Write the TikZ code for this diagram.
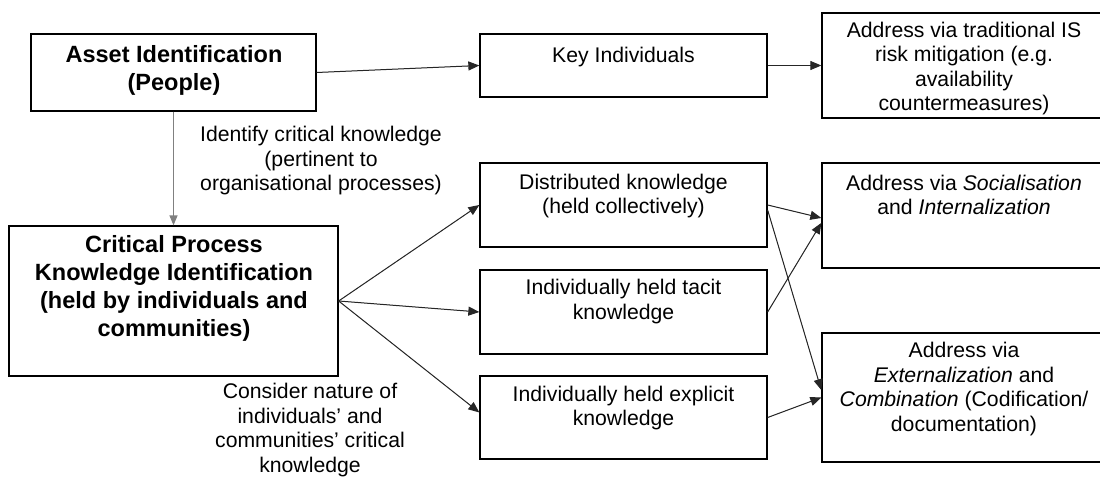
\documentclass[tikz,border=0pt]{standalone}
\usepackage{fontspec}
\setmainfont{Liberation Sans}
\usetikzlibrary{arrows.meta,calc}
\begin{document}
\begin{tikzpicture}[x=1pt,y=-1pt,
  box/.style={draw=black,line width=1.3pt,inner sep=0pt,rectangle},
  txt/.style={align=center,inner sep=0pt,font=\fontsize{21.2}{24.5}\selectfont},
  btxt/.style={align=center,inner sep=0pt,font=\fontsize{23.5}{28}\selectfont\bfseries},
  arr/.style={-{Triangle[length=11pt,width=9pt]},line width=1pt,draw=black!85,fill=black!85},
  garr/.style={-{Triangle[length=10pt,width=8pt]},line width=1.3pt,draw=black!50,fill=black!70}]
\useasboundingbox (0,0) rectangle (1100,479);
% boxes
\node[box,minimum width=285pt,minimum height=77pt] (asset) at (173.5,72.5) {};
\node[box,minimum width=329pt,minimum height=150pt] (crit) at (173.5,301) {};
\node[box,minimum width=287pt,minimum height=63pt] (key) at (623.5,65.5) {};
\node[box,minimum width=280pt,minimum height=105pt] (trad) at (962,65.5) {};
\node[box,minimum width=287pt,minimum height=84pt] (dist) at (623.5,205) {};
\node[box,minimum width=280pt,minimum height=105pt] (soc) at (962,215.5) {};
\node[box,minimum width=287pt,minimum height=84pt] (tacit) at (623.5,312) {};
\node[box,minimum width=287pt,minimum height=83pt] (expl) at (623.5,417.5) {};
\node[box,minimum width=280pt,minimum height=129pt] (ext) at (962,397.5) {};
% texts
\node[btxt] (assettxt) at (174,70) {Asset Identification\\(People)};
\node[btxt] (crittxt) at (174,288.5) {Critical Process\\Knowledge Identification\\(held by individuals and\\communities)};
\node[txt] (keytxt) at (623.5,57) {Key Individuals};
\node[txt] (tradtxt) at (964,68.5) {Address via traditional IS\\risk mitigation (e.g.\\availability\\countermeasures)};
\node[txt] (disttxt) at (623.5,196) {Distributed knowledge\\(held collectively)};
\node[txt] (soctxt) at (964,195) {Address via \textit{Socialisation}\\and \textit{Internalization}};
\node[txt] (tacittxt) at (623.5,301.5) {Individually held tacit\\knowledge};
\node[txt] (expltxt) at (623.5,408) {Individually held explicit\\knowledge};
\node[txt] (exttxt) at (964,389) {Address via\\\textit{Externalization} and\\\textit{Combination} (Codification/\\documentation)};
\node[txt] (lab1) at (321,161) {Identify critical knowledge\\(pertinent to\\organisational processes)};
\node[txt] (lab2) at (310,430) {Consider nature of\\individuals’ and\\communities’ critical\\knowledge};
% connectors
\draw[arr] (asset.east) -- (key.west);
\draw[arr] (key.east) -- (trad.west);
\draw[garr] (asset.south) -- (crit.north);
\draw[arr] (crit.east) -- (dist.west);
\draw[arr] (crit.east) -- (tacit.west);
\draw[arr] (crit.east) -- (expl.178);
\draw[arr] (dist.east) -- (soc.181);
\draw[arr] (tacit.east) -- (soc.183);
\draw[arr] (dist.-2) -- (ext.177);
\draw[arr] (expl.east) -- (ext.west);
\end{tikzpicture}
\end{document}
